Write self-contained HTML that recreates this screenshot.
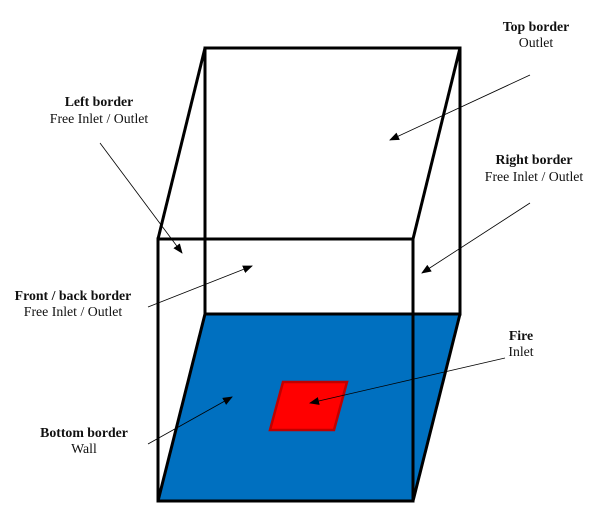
<!DOCTYPE html>
<html><head><style>body{margin:0;background:#fff}</style></head><body>
<svg width="603" height="511" xmlns="http://www.w3.org/2000/svg" style="display:block">
<defs><marker id="a" markerWidth="10" markerHeight="8" refX="9" refY="4" orient="auto" markerUnits="userSpaceOnUse"><path d="M0,0L10,4L0,8z" fill="#000"/></marker></defs>
<polygon points="205,314 460,314 413,501 158,501" fill="#0070c0"/>
<polygon points="283,382 347,382 334,430 270,430" fill="#ff0000" stroke="#c00000" stroke-width="2.5"/>
<g stroke="#000" stroke-width="3" fill="none">
<rect x="205" y="48" width="255" height="266"/>
<rect x="158" y="239" width="255" height="262"/>
<line x1="205" y1="48" x2="158" y2="239"/>
<line x1="460" y1="48" x2="413" y2="239"/>
<line x1="205" y1="314" x2="158" y2="501"/>
<line x1="460" y1="314" x2="413" y2="501"/>
</g>
<g stroke="#000" stroke-width="0.8" marker-end="url(#a)">
<line x1="100" y1="143" x2="182" y2="253"/>
<line x1="530" y1="75" x2="390" y2="140"/>
<line x1="530" y1="203" x2="422" y2="273"/>
<line x1="148" y1="307" x2="252" y2="266"/>
<line x1="148" y1="444" x2="232" y2="397"/>
<line x1="505" y1="358" x2="310" y2="403"/>
</g>
<g font-family="Liberation Serif, serif" font-size="13.8" text-anchor="middle" fill="#111">
<text x="536" y="31" font-weight="bold">Top border</text><text x="536" y="47">Outlet</text>
<text x="99" y="106" font-weight="bold">Left border</text><text x="99" y="123">Free Inlet / Outlet</text>
<text x="534" y="164" font-weight="bold">Right border</text><text x="534" y="181">Free Inlet / Outlet</text>
<text x="73" y="300" font-weight="bold">Front / back border</text><text x="73" y="316">Free Inlet / Outlet</text>
<text x="521" y="340" font-weight="bold">Fire</text><text x="521" y="356">Inlet</text>
<text x="84" y="437" font-weight="bold">Bottom border</text><text x="84" y="453">Wall</text>
</g>
</svg>
</body></html>
